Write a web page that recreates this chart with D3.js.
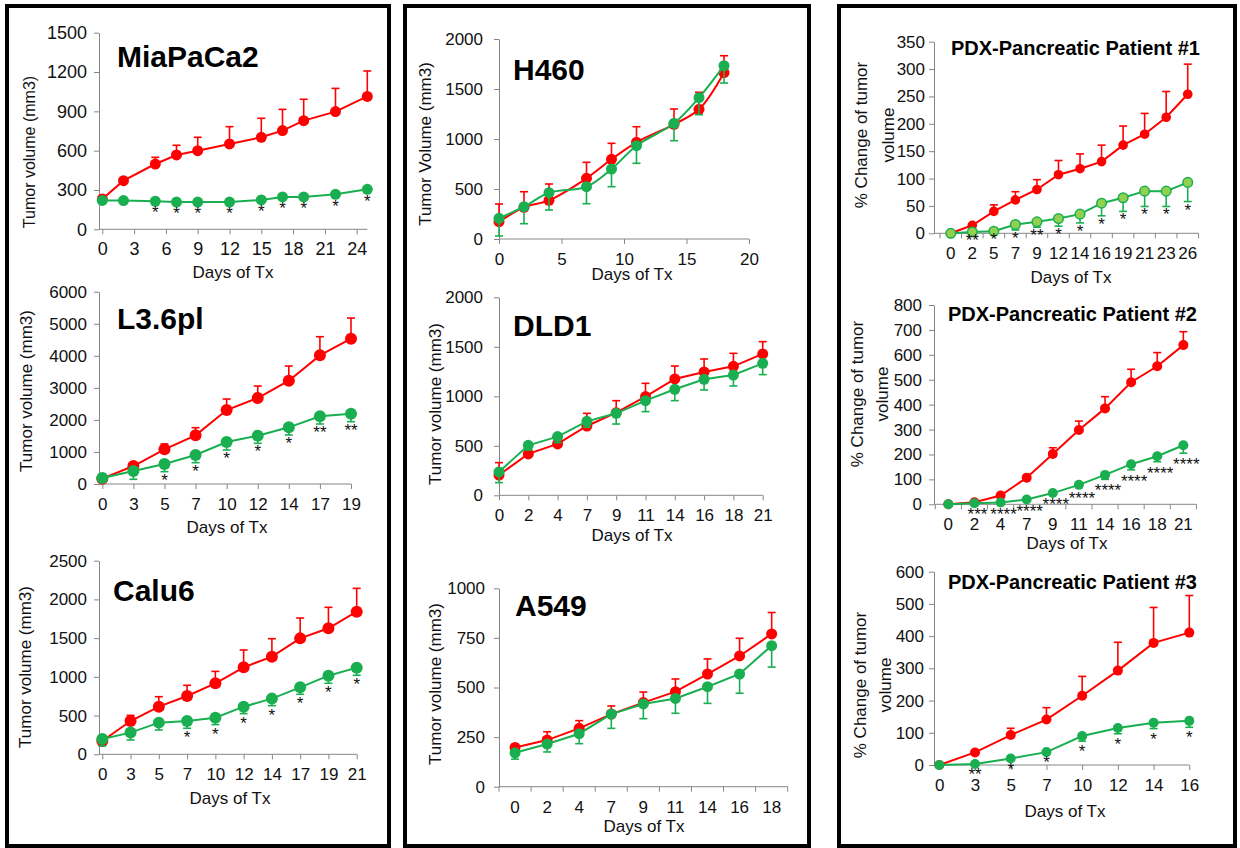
<!DOCTYPE html>
<html lang="en">
<head>
<meta charset="utf-8">
<title>Tumor growth panels</title>
<script src="https://cdnjs.cloudflare.com/ajax/libs/d3/7.8.5/d3.min.js"></script>
<style>
  body { margin: 0; background: #fff; }
  svg { display: block; font-family: Arial, "Liberation Sans", sans-serif; }
</style>
</head>
<body>
<script>
// ---- values ----
// red = control (error bar up), green = treated (error bar down)

// MiaPaCa2
const miaDays   = [0, 2, 5, 7, 9, 12, 15, 17, 19, 22, 25];
const miaCtrl   = [232, 371, 498, 567, 600, 651, 702, 753, 829, 898, 1014];
const miaCtrlSd = [0, 0, 51, 74, 102, 132, 145, 162, 163, 177, 194];
const miaTx     = [220, 219, 214, 208, 208, 208, 224, 247, 247, 267, 305];
const miaTxSd   = [0, 0, 8, 8, 8, 8, 8, 8, 8, 10, 10];
const miaStars  = ['', '', '*', '*', '*', '*', '*', '*', '*', '*', '*'];
const miaYTicks = [0, 300, 600, 900, 1200, 1500];
const miaXTicks = [0, 3, 6, 9, 12, 15, 18, 21, 24];

// L3.6pl
const l36Days   = [0, 3, 5, 7, 10, 12, 14, 17, 19];
const l36Ctrl   = [166, 561, 1081, 1518, 2308, 2683, 3223, 4014, 4534];
const l36CtrlSd = [0, 60, 167, 239, 343, 374, 458, 582, 644];
const l36Tx     = [187, 405, 624, 905, 1310, 1508, 1768, 2111, 2194];
const l36TxSd   = [0, 259, 239, 240, 249, 239, 239, 239, 250];
const l36Stars  = ['', '', '*', '*', '*', '*', '*', '**', '**'];
const l36YTicks = [0, 1000, 2000, 3000, 4000, 5000, 6000];

// Calu6
const caluDays   = [0, 3, 5, 7, 10, 12, 14, 17, 19, 21];
const caluCtrl   = [172, 430, 615, 753, 916, 1123, 1261, 1497, 1627, 1842];
const caluCtrlSd = [0, 73, 129, 138, 155, 224, 232, 263, 271, 301];
const caluTx     = [198, 280, 409, 430, 473, 615, 719, 865, 1015, 1119];
const caluTxSd   = [90, 95, 95, 94, 90, 90, 91, 90, 98, 99];
const caluStars  = ['', '', '', '*', '*', '*', '*', '*', '*', '*'];
const caluYTicks = [0, 500, 1000, 1500, 2000, 2500];

// H460
const h460Days   = [0, 2, 4, 7, 9, 11, 14, 16, 18];
const h460Ctrl   = [173, 317, 387, 607, 797, 967, 1147, 1297, 1663];
const h460CtrlSd = [177, 156, 163, 160, 160, 156, 153, 170, 170];
const h460Tx     = [207, 323, 463, 523, 700, 933, 1157, 1413, 1733];
const h460TxSd   = [177, 170, 173, 170, 177, 176, 174, 170, 173];
const h460YTicks = [0, 500, 1000, 1500, 2000];
const h460XTicks = [0, 5, 10, 15, 20];

// DLD1
const dldDays   = [0, 2, 4, 7, 9, 11, 14, 16, 18, 21];
const dldCtrl   = [205, 418, 519, 700, 835, 997, 1175, 1246, 1303, 1428];
const dldCtrlSd = [125, 40, 40, 128, 121, 134, 131, 131, 131, 124];
const dldTx     = [236, 505, 593, 747, 828, 956, 1071, 1172, 1215, 1333];
const dldTxSd   = [108, 47, 61, 60, 108, 111, 115, 108, 111, 114];
const dldYTicks = [0, 500, 1000, 1500, 2000];

// A549
const a549Days   = [0, 2, 4, 7, 9, 11, 14, 16, 18];
const a549Ctrl   = [198, 235, 294, 366, 424, 479, 568, 659, 770];
const a549CtrlSd = [15, 42, 39, 41, 53, 64, 76, 89, 108];
const a549Tx     = [171, 215, 267, 366, 417, 445, 504, 568, 711];
const a549TxSd   = [32, 40, 50, 72, 74, 75, 84, 97, 108];
const a549YTicks = [0, 250, 500, 750, 1000];

// PDX patient #1
const pdx1Days   = [0, 2, 5, 7, 9, 12, 14, 16, 19, 21, 23, 26];
const pdx1Ctrl   = [0, 14.6, 40, 61, 80, 107, 118, 131, 161, 181, 212, 254];
const pdx1CtrlSd = [0, 0, 12, 15, 18, 26, 27, 30, 35, 38, 47, 55];
const pdx1Tx     = [0, 2.4, 3.7, 16, 21, 27, 35, 55, 65, 77, 77, 93];
const pdx1TxSd   = [0, 0, 0, 10, 10, 14, 16, 23, 25, 28, 28, 35];
const pdx1Stars  = ['', '**', '*', '*', '**', '*', '*', '*', '*', '*', '*', '*'];
const pdx1YTicks = [0, 50, 100, 150, 200, 250, 300, 350];

// PDX patient #2
const pdx2Days   = [0, 2, 4, 7, 9, 11, 14, 16, 18, 21];
const pdx2Ctrl   = [0, 8, 35, 107, 202, 298, 385, 490, 554, 639];
const pdx2CtrlSd = [0, 0, 0, 0, 25, 36, 47, 52, 55, 54];
const pdx2Tx     = [0, 4, 7, 19, 45, 78, 118, 161, 193, 237];
const pdx2TxSd   = [0, 0, 0, 0, 0, 10, 18, 23, 22, 32];
const pdx2Stars  = ['', '***', '****', '****', '****', '****', '****', '****', '****', '****'];
const pdx2YTicks = [0, 100, 200, 300, 400, 500, 600, 700, 800];

// PDX patient #3
const pdx3Days   = [0, 3, 5, 7, 10, 12, 14, 16];
const pdx3Ctrl   = [0, 39, 93, 141, 215, 293, 379, 411];
const pdx3CtrlSd = [0, 0, 21, 37, 60, 88, 110, 115];
const pdx3Tx     = [0, 3, 20, 40, 90, 115, 131, 137];
const pdx3TxSd   = [0, 0, 0, 0, 16, 18, 18, 20];
const pdx3Stars  = ['', '**', '*', '*', '*', '*', '*', '*'];
const pdx3YTicks = [0, 100, 200, 300, 400, 500, 600];

const RED = '#ff0000', GREEN = '#19af50', AXIS = '#868686';

const svg = d3.select('body').append('svg')
  .attr('width', 1240).attr('height', 848);
svg.append('rect').attr('width', 1240).attr('height', 848).attr('fill', '#fff');

// the three framed columns
[[7, 382], [405, 404], [839, 396]].forEach(([bx, bw]) => {
  svg.append('rect').attr('x', bx).attr('y', 6).attr('width', bw).attr('height', 840)
    .attr('fill', 'none').attr('stroke', '#000').attr('stroke-width', 4);
});

const volLabel = ['Tumor volume (mm3)'];
const pctLabel = ['% Change of tumor', 'volume'];

// layout for each panel, built from the arrays above
const panels = [
  { title: 'MiaPaCa2', big: true, tx: 117, ty: 67,
    days: miaDays, ctrl: miaCtrl, ctrlSd: miaCtrlSd, trt: miaTx, trtSd: miaTxSd, stars: miaStars,
    yTicks: miaYTicks, xType: 'linear', xDomain: [0, 24], xTicks: miaXTicks, xRange: [102.3, 356.7], xEnd: 25,
    x0: 99, yTop: 32.7, yBot: 229.3, fs: 18, yPad: 7, r: 5.5,
    yLab: volLabel, yLabX: [29], yLabY: 152, yLabFs: 16, xLabX: 233, xLabDy: 49, starDy: 16 },
  { title: 'L3.6pl', big: true, tx: 117, ty: 329,
    days: l36Days, ctrl: l36Ctrl, ctrlSd: l36CtrlSd, trt: l36Tx, trtSd: l36TxSd, stars: l36Stars,
    yTicks: l36YTicks, xType: 'point', xRange: [102.3, 351],
    x0: 99, yTop: 291.7, yBot: 484, fs: 17, yPad: 7, r: 6,
    yLab: volLabel, yLabX: [26], yLabY: 391, yLabFs: 17, xLabX: 227, xLabDy: 49, starDy: 14 },
  { title: 'Calu6', big: true, tx: 113, ty: 601,
    days: caluDays, ctrl: caluCtrl, ctrlSd: caluCtrlSd, trt: caluTx, trtSd: caluTxSd, stars: caluStars,
    yTicks: caluYTicks, xType: 'point', xRange: [102.3, 356.7],
    x0: 99, yTop: 560.7, yBot: 754.3, fs: 17, yPad: 7, r: 6,
    yLab: volLabel, yLabX: [25], yLabY: 667, yLabFs: 17, xLabX: 230, xLabDy: 50, starDy: 15 },
  { title: 'H460', big: true, tx: 513, ty: 80,
    days: h460Days, ctrl: h460Ctrl, ctrlSd: h460CtrlSd, trt: h460Tx, trtSd: h460TxSd, smooth: true,
    yTicks: h460YTicks, xType: 'linear', xDomain: [0, 20], xTicks: h460XTicks, xRange: [499, 749], xEnd: 20,
    x0: 499, yTop: 39, yBot: 239, fs: 17, yPad: 11, r: 5.5,
    yLab: ['Tumor Volume (mm3)'], yLabX: [425], yLabY: 144, yLabFs: 17, xLabX: 632, xLabDy: 41 },
  { title: 'DLD1', big: true, tx: 513, ty: 336,
    days: dldDays, ctrl: dldCtrl, ctrlSd: dldCtrlSd, trt: dldTx, trtSd: dldTxSd,
    yTicks: dldYTicks, xType: 'point', xRange: [499, 762.7],
    x0: 499, yTop: 297.3, yBot: 495.3, fs: 17, yPad: 11, r: 5.5,
    yLab: volLabel, yLabX: [435], yLabY: 404, yLabFs: 17, xLabX: 632, xLabDy: 46 },
  { title: 'A549', big: true, tx: 515, ty: 616,
    days: a549Days, ctrl: a549Ctrl, ctrlSd: a549CtrlSd, trt: a549Tx, trtSd: a549TxSd,
    yTicks: a549YTicks, xType: 'band', xRange: [499, 787.7],
    x0: 499, yTop: 588.3, yBot: 786.7, fs: 17, yPad: 9, r: 5.5,
    yLab: volLabel, yLabX: [435], yLabY: 684, yLabFs: 17, xLabX: 644, xLabDy: 45 },
  { title: 'PDX-Pancreatic Patient #1', big: false, tx: 951, ty: 55,
    days: pdx1Days, ctrl: pdx1Ctrl, ctrlSd: pdx1CtrlSd, trt: pdx1Tx, trtSd: pdx1TxSd, stars: pdx1Stars,
    yTicks: pdx1YTicks, xType: 'band', xRange: [940, 1198.5], trtFill: '#92d050',
    x0: 934, yTop: 41.7, yBot: 233.3, fs: 17, yPad: 4, r: 4.8,
    yLab: pctLabel, yLabX: [861, 888], yLabY: 135, yLabFs: 17, xLabX: 1071, xLabDy: 50, starDy: 14 },
  { title: 'PDX-Pancreatic Patient #2', big: false, tx: 948, ty: 321,
    days: pdx2Days, ctrl: pdx2Ctrl, ctrlSd: pdx2CtrlSd, trt: pdx2Tx, trtSd: pdx2TxSd, stars: pdx2Stars,
    yTicks: pdx2YTicks, xType: 'band', xRange: [935.3, 1196.4],
    x0: 934, yTop: 305, yBot: 504.3, fs: 17, yPad: 7, r: 5,
    yLab: pctLabel, yLabX: [857, 882], yLabY: 394, yLabFs: 17, xLabX: 1067, xLabDy: 45, starDy: 17, starDx: 3 },
  { title: 'PDX-Pancreatic Patient #3', big: false, tx: 948, ty: 589,
    days: pdx3Days, ctrl: pdx3Ctrl, ctrlSd: pdx3CtrlSd, trt: pdx3Tx, trtSd: pdx3TxSd, stars: pdx3Stars,
    yTicks: pdx3YTicks, xType: 'point', xRange: [939.3, 1189.3],
    x0: 934, yTop: 571.7, yBot: 765, fs: 17, yPad: 5, r: 5,
    yLab: pctLabel, yLabX: [860, 885], yLabY: 685, yLabFs: 17, xLabX: 1065, xLabDy: 52, starDy: 16 }
];

panels.forEach(drawPanel);

function drawPanel(p) {
  const g = svg.append('g');
  const y = d3.scaleLinear().domain([0, d3.max(p.yTicks)]).range([p.yBot, p.yTop]);

  let x, xPos, xEnd;
  if (p.xType === 'linear') {
    x = d3.scaleLinear().domain(p.xDomain).range(p.xRange);
    xPos = d => x(d);
    xEnd = x(p.xEnd);
  } else if (p.xType === 'point') {
    x = d3.scalePoint().domain(p.days.map(String)).range(p.xRange);
    xPos = d => x(String(d));
    xEnd = p.xRange[1];
  } else {
    x = d3.scaleBand().domain(p.days.map(String)).range(p.xRange);
    xPos = d => x(String(d)) + x.bandwidth() / 2;
    xEnd = p.xRange[1];
  }

  // y axis
  const yAxis = g.append('g').attr('transform', `translate(${p.x0},0)`)
    .call(d3.axisLeft(y).tickValues(p.yTicks).tickFormat(d3.format('d'))
      .tickSize(5).tickSizeOuter(0).tickPadding(p.yPad));
  styleAxis(yAxis, p.fs);

  // x axis
  let xAxis;
  if (p.xType === 'linear') {
    xAxis = d3.axisBottom(x).tickValues(p.xTicks).tickFormat(d3.format('d'))
      .tickSize(5).tickPadding(26 - 5 - 0.71 * p.fs);
  } else if (p.xType === 'point') {
    xAxis = d3.axisBottom(x).tickSize(5).tickPadding(26 - 5 - 0.71 * p.fs);
  } else {
    xAxis = d3.axisBottom(x).tickSize(0).tickPadding(26 - 0.71 * p.fs);
  }
  const xg = g.append('g').attr('transform', `translate(0,${p.yBot})`).call(xAxis);
  styleAxis(xg, p.fs);
  xg.select('.domain').remove();
  if (p.xType === 'band') {
    // Excel style: tick marks between categories
    xg.selectAll('line.sep').data(d3.range(p.days.length + 1)).join('line')
      .attr('class', 'sep')
      .attr('x1', i => p.xRange[0] + i * x.step()).attr('x2', i => p.xRange[0] + i * x.step())
      .attr('y1', 0).attr('y2', 5).attr('stroke', AXIS);
  }
  g.append('line').attr('x1', p.x0).attr('x2', xEnd).attr('y1', p.yBot).attr('y2', p.yBot)
    .attr('stroke', AXIS).attr('stroke-width', 1);

  // titles
  g.append('text').attr('x', p.tx).attr('y', p.ty)
    .attr('font-size', p.big ? 30 : 20).attr('font-weight', 'bold').attr('fill', '#000')
    .text(p.title);

  p.yLab.forEach((t, i) => {
    g.append('text')
      .attr('transform', `translate(${p.yLabX[i]},${p.yLabY}) rotate(-90)`)
      .attr('text-anchor', 'middle').attr('dy', '0.35em')
      .attr('font-size', p.yLabFs).attr('fill', '#111').text(t);
  });
  g.append('text').attr('x', p.xLabX).attr('y', p.yBot + p.xLabDy)
    .attr('text-anchor', 'middle').attr('font-size', 17).attr('fill', '#111')
    .text('Days of Tx');

  const curve = p.smooth ? d3.curveCatmullRom : d3.curveLinear;

  // control first, treated drawn on top
  drawSeries(g, p, p.ctrl, p.ctrlSd, +1, RED, RED, xPos, y, curve);
  drawSeries(g, p, p.trt, p.trtSd, -1, GREEN, p.trtFill || GREEN, xPos, y, curve);

  if (p.stars) {
    g.selectAll('text.star').data(p.stars).join('text')
      .attr('class', 'star')
      .attr('x', (s, i) => xPos(p.days[i]) + (p.starDx || 0))
      .attr('y', (s, i) => y(p.trt[i] - p.trtSd[i]) + p.starDy)
      .attr('text-anchor', 'middle').attr('font-size', 17).attr('fill', '#111')
      .text(s => s);
  }
}

function drawSeries(g, p, vals, sds, dir, color, fill, xPos, y, curve) {
  const idx = d3.range(vals.length).filter(i => sds[i] > 0);
  const eb = g.append('g').attr('stroke', color).attr('stroke-width', 1.6);
  eb.selectAll('line.bar').data(idx).join('line')
    .attr('class', 'bar')
    .attr('x1', i => xPos(p.days[i])).attr('x2', i => xPos(p.days[i]))
    .attr('y1', i => y(vals[i])).attr('y2', i => y(vals[i] + dir * sds[i]));
  eb.selectAll('line.cap').data(idx).join('line')
    .attr('class', 'cap')
    .attr('x1', i => xPos(p.days[i]) - 4).attr('x2', i => xPos(p.days[i]) + 4)
    .attr('y1', i => y(vals[i] + dir * sds[i])).attr('y2', i => y(vals[i] + dir * sds[i]));

  const line = d3.line().x((d, i) => xPos(p.days[i])).y(d => y(d)).curve(curve);
  g.append('path').datum(vals).attr('d', line)
    .attr('fill', 'none').attr('stroke', color).attr('stroke-width', 2);

  g.append('g').selectAll('circle').data(vals).join('circle')
    .attr('cx', (d, i) => xPos(p.days[i])).attr('cy', d => y(d)).attr('r', p.r)
    .attr('fill', fill).attr('stroke', color).attr('stroke-width', fill === color ? 0 : 1.5);
}

function styleAxis(sel, fs) {
  sel.attr('font-family', null).attr('font-size', fs);
  sel.selectAll('.domain').attr('stroke', AXIS);
  sel.selectAll('.tick line').attr('stroke', AXIS);
  sel.selectAll('.tick text').attr('fill', '#111');
}
</script>
</body>
</html>
